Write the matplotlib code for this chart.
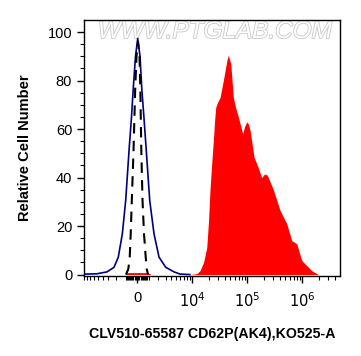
import numpy as np
import matplotlib
matplotlib.use("Agg")
import matplotlib.pyplot as plt
import matplotlib.patheffects as pe

# fluorescence intensity (linear units) vs relative cell number
red_x = [-1047, -862, 954, 1240, 9090, 12250, 13910, 16120, 18440, 19900, 21200,
         22780, 24350, 25610, 26950, 29060, 32250, 37040, 42740, 45700, 50570,
         56360, 61790, 69500, 83550, 90040, 98850, 106400, 113500, 134000,
         160300, 184900, 208000, 233900, 300600, 398000, 527000, 650000,
         801000, 988000, 1217000, 1500000, 1977000]
red_y = [0, 0.8, 0.8, 0, 0, 0.4, 1.6, 5, 11, 22, 35,
         46, 55, 63, 69, 71, 73, 80, 88, 90.5, 87,
         73, 69, 65, 58, 61, 63, 62, 59.5, 48.5,
         44, 40, 41.5, 41, 35, 26.5, 21, 14,
         12.7, 5.8, 3.7, 1.6, 0]

blue_x = [-9090, -5225, -3225, -2236, -1731, -1308, -983, -683, -480, -312, -126,
          58, 252, 397, 600, 798, 1114, 1546, 2114, 3023, 4498, 5885, 9000]
blue_y = [0.2, 0.3, 1.1, 3, 7.2, 16.8, 30.6, 51, 64, 77, 90,
          97.4, 90, 77, 64, 51, 30.6, 16.8, 7.2, 3, 1.1, 0.2, 0]

black_x = [-954, -744, -620, -534, -439, -294, -150, -42, 84, 209, 277, 362,
           465, 594, 744, 835, 954]
black_y = [0, 2.3, 7.2, 16.8, 30.6, 51, 77, 90, 96, 90, 77, 51,
           30.6, 16.8, 7.2, 2.3, 0]

xticks = [0, 1e4, 1e5, 1e6]
xticklabels = ["0", r"$10^4$", r"$10^5$", r"$10^6$"]
yticks = [0, 20, 40, 60, 80, 100]

plt.rcParams["font.family"] = ["Liberation Sans", "DejaVu Sans"]

W = 2000.0


def fwd(v):
    return np.arcsinh(np.asarray(v) / W) / np.log(10)


def inv(t):
    return W * np.sinh(np.asarray(t) * np.log(10))


fig = plt.figure(figsize=(3.61, 3.56), dpi=100)
ax = fig.add_axes([0.2327, 0.2247, 0.7091, 0.7191])
ax.set_xscale("function", functions=(fwd, inv))

ax.fill_between(red_x, red_y, 0, color="#ff0000", lw=0, zorder=2)
ax.plot(blue_x, blue_y, color="#00007f", lw=1.2, zorder=3)
ax.plot(black_x, black_y, color="black", lw=1.5, dashes=(5, 3.5), zorder=4)

ax.set_xlim(-9090, 4.9e6)
ax.set_ylim(-0.6, 105)

minors = []
for m in range(1, 10):
    minors += [m * 100, -m * 100, m * 1000, -m * 1000, m * 1e4, m * 1e5]
minors += [2e6, 3e6, 4e6]
ax.set_xticks(xticks)
ax.set_xticklabels(xticklabels)
ax.set_xticks([v for v in minors if v not in xticks], minor=True)
ax.set_yticks(yticks)
ax.set_yticks(np.arange(0, 105, 5), minor=True)

ax.tick_params(which="major", length=5, width=1, labelsize=10.5, direction="out")
ax.tick_params(which="minor", length=3, width=0.8, direction="out")
ax.tick_params(axis="x", which="major", pad=6)
for s in ax.spines.values():
    s.set_linewidth(1)

ax.set_xlabel("CLV510-65587 CD62P(AK4),KO525-A", fontsize=10.2,
              fontweight="bold", labelpad=12)
ax.set_ylabel("Relative Cell Number", fontsize=10.5, fontweight="bold",
              labelpad=11)

wm = ax.text(0.51, 0.955, "WWW.PTGLAB.COM", transform=ax.transAxes,
             ha="center", va="center", fontsize=17.5, fontstyle="italic",
             color="white", zorder=1)
wm.set_path_effects([pe.Stroke(linewidth=1.2, foreground="#c8c8c8"), pe.Normal()])

fig.savefig("out.png", dpi=100)
